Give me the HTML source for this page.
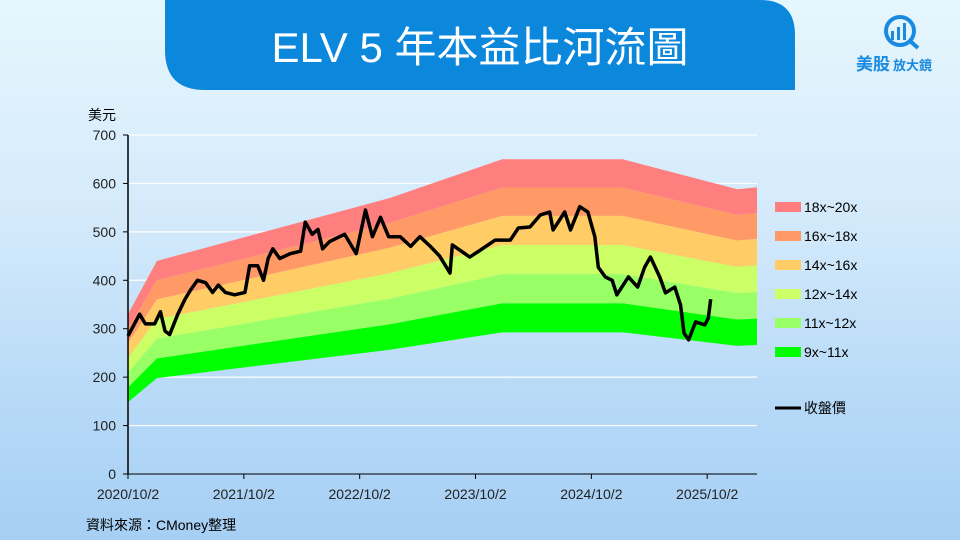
<!DOCTYPE html>
<html><head><meta charset="utf-8"><style>
body{margin:0;width:960px;height:540px;overflow:hidden;font-family:"Liberation Sans","Noto Sans CJK TC",sans-serif}
#bg{position:absolute;left:0;top:0;width:960px;height:540px;background:linear-gradient(180deg,#e6f6fd 0%,#d4eafb 40%,#b6d9f7 75%,#a6cff4 100%)}
</style></head><body>
<div id="bg"></div>
<svg id="chart" width="960" height="540" style="position:absolute;left:0;top:0">
<path d="M165,0 H760 Q795,0 795,35 V90 H205 Q165,90 165,50 Z" fill="#0b87dc"/>
<text x="480" y="62" text-anchor="middle" fill="#fff" font-size="42" font-family="Liberation Sans,Noto Sans CJK TC,sans-serif">ELV 5 年本益比河流圖</text>
<g>
<circle cx="900" cy="31" r="14" fill="none" stroke="#1a8ae0" stroke-width="4"/>
<line x1="910" y1="41" x2="918" y2="48" stroke="#1a8ae0" stroke-width="4"/>
<rect x="891" y="31" width="3" height="9" fill="#1a8ae0"/><rect x="897" y="27" width="3" height="13" fill="#1a8ae0"/><rect x="903" y="23" width="3" height="17" fill="#1a8ae0"/>
<text x="856" y="70" fill="#1a8ae0" font-size="17" font-weight="bold" font-family="Noto Sans CJK TC,sans-serif">美股</text>
<text x="893" y="70" fill="#1a8ae0" font-size="13" font-weight="bold" font-family="Noto Sans CJK TC,sans-serif">放大鏡</text>
</g>
<g id="grid"></g><g id="bands"></g><g id="price"></g><g id="axes"></g><g id="legend"></g>
<text x="88" y="120" font-size="14" fill="#000">美元</text>
<text x="86" y="530" font-size="14" fill="#000">資料來源：CMoney整理</text>
</svg>
<script>
const bandKnotYears=[2020.75,2021.0,2023.01,2023.98,2025.02,2026.01,2026.18];
const bandEps=[16.5,22,28.5,32.5,32.5,29.4,29.6];
const multiples=[9,10.85,12.7,14.55,16.4,18.2,20];
const bandLabels=["9x~11x","11x~12x","12x~14x","14x~16x","16x~18x","18x~20x"];
const bandColors=["#00ff00","#99ff66","#ccff66","#ffcc66","#ff9966","#ff7f7f"];
const priceYears=[2020.75,2020.85,2020.90,2020.98,2021.03,2021.07,2021.11,2021.18,2021.24,2021.29,2021.35,2021.42,2021.48,2021.53,2021.59,2021.67,2021.76,2021.80,2021.87,2021.92,2021.96,2022.00,2022.06,2022.15,2022.24,2022.28,2022.34,2022.39,2022.43,2022.49,2022.62,2022.72,2022.80,2022.86,2022.93,2023.00,2023.10,2023.19,2023.27,2023.36,2023.44,2023.53,2023.55,2023.70,2023.79,2023.92,2024.05,2024.12,2024.22,2024.31,2024.39,2024.42,2024.52,2024.57,2024.65,2024.72,2024.78,2024.81,2024.87,2024.93,2024.97,2025.07,2025.15,2025.21,2025.26,2025.34,2025.39,2025.47,2025.52,2025.55,2025.59,2025.65,2025.73,2025.76,2025.78];
const priceValues=[285,330,310,310,335,295,288,330,360,380,400,395,375,390,375,370,375,430,430,400,445,465,445,455,460,520,495,505,465,480,495,455,545,490,530,490,490,470,490,470,450,415,473,448,462,483,483,508,510,535,541,504,541,504,552,541,490,427,407,400,370,407,386,427,448,407,374,386,349,291,277,314,308,322,361];
const yTicks=[0,100,200,300,400,500,600,700];
const xTickYears=[2020.75,2021.75,2022.75,2023.75,2024.75,2025.75];
const xTickLabels=["2020/10/2","2021/10/2","2022/10/2","2023/10/2","2024/10/2","2025/10/2"];
const X0=128,X1=757,Y0=474,Y1=135,xmin=2020.75,xmax=2026.18,ymax=700;
const sx=v=>X0+(v-xmin)/(xmax-xmin)*(X1-X0);
const sy=v=>Y0-v/ymax*(Y0-Y1);
const NS="http://www.w3.org/2000/svg";
function mk(tag,attrs,parent){const e=document.createElementNS(NS,tag);for(const k in attrs)e.setAttribute(k,attrs[k]);document.getElementById(parent).appendChild(e);return e;}
yTicks.forEach(t=>{
 if(t>0){const g=mk('line',{x1:X0,x2:X1,y1:sy(t),y2:sy(t),stroke:'#fff','stroke-width':1.2},'grid');
 
 }
 const l=mk('text',{x:X0-12,y:sy(t)+5,'text-anchor':'end','font-size':14,fill:'#222'},'axes');l.textContent=t;
 
 
 mk('line',{x1:X0-5,x2:X0,y1:sy(t),y2:sy(t),stroke:'#000'},'axes');
});
for(let i=0;i<6;i++){
 const lo=multiples[i],hi=multiples[i+1];
 let d='M'+bandKnotYears.map((y,j)=>sx(y)+','+sy(bandEps[j]*hi)).join(' L');
 for(let j=bandKnotYears.length-1;j>=0;j--)d+=' L'+sx(bandKnotYears[j])+','+sy(bandEps[j]*lo);
 const p=mk('path',{d:d+'Z',fill:bandColors[i]},'bands');
 
 
 const ly=352-i*29;
 const r=mk('rect',{x:775,y:ly-5,width:26,height:10,fill:bandColors[i]},'legend');
 
 
 const t=mk('text',{x:804,y:ly+5,'font-size':14,fill:'#000'},'legend');t.textContent=bandLabels[i];
 
 
}
const pl=mk('polyline',{points:priceYears.map((y,i)=>sx(y)+','+sy(priceValues[i])).join(' '),fill:'none',stroke:'#000','stroke-width':3.5,'stroke-linejoin':'round'},'price');


const ll=mk('line',{x1:775,x2:801,y1:408,y2:408,stroke:'#000','stroke-width':3},'legend');


const lt=mk('text',{x:804,y:413,'font-size':14,fill:'#000'},'legend');lt.textContent='收盤價';


mk('line',{x1:X0,x2:X0,y1:Y1,y2:Y0,stroke:'#000','stroke-width':1.5},'axes');
mk('line',{x1:X0,x2:X1,y1:Y0,y2:Y0,stroke:'#000','stroke-width':1},'axes');
xTickYears.forEach((y,i)=>{
 mk('line',{x1:sx(y),x2:sx(y),y1:Y0,y2:Y0+5,stroke:'#000'},'axes');
 const t=mk('text',{x:sx(y),y:Y0+25,'text-anchor':'middle','font-size':14,fill:'#222'},'axes');t.textContent=xTickLabels[i];
 
 
});
</script>
</body></html>
